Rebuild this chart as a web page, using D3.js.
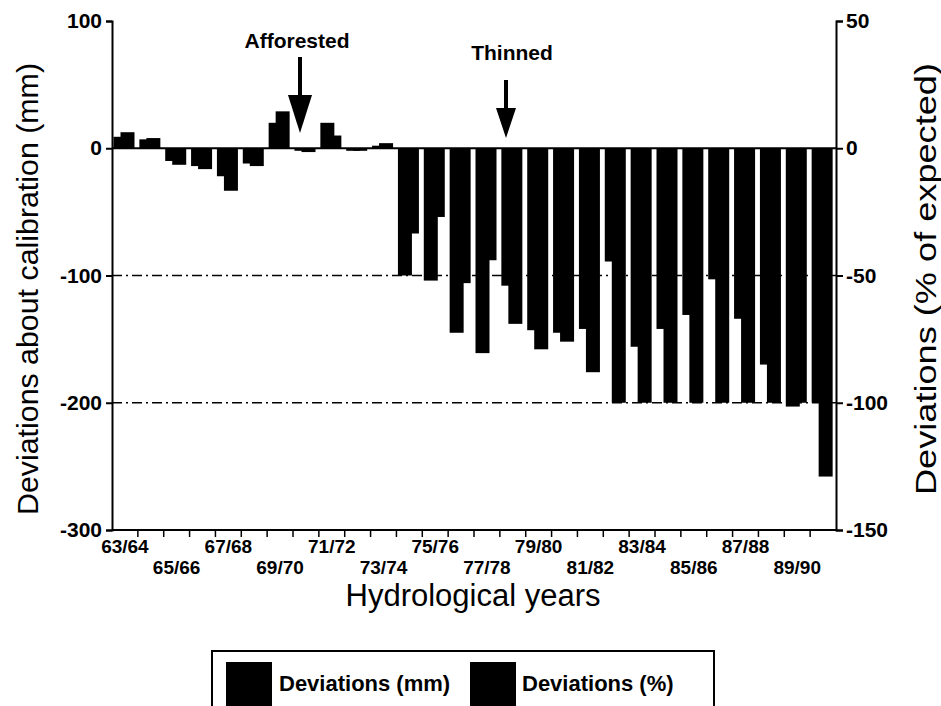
<!DOCTYPE html>
<meta charset="utf-8">
<style>
    body { margin: 0; background: white; }
    text { font-family: "Liberation Sans", Arial, sans-serif; fill: black; }
    .tick-lab { font-size: 19px; font-weight: bold; }
    .ax-title { font-size: 30px; }
</style>
<body>
<script src="https://cdn.jsdelivr.net/npm/d3@7"></script>
<script>
    // hydrological years, 63/64 .. 90/91
    var years = ['63/64','64/65','65/66','66/67','67/68','68/69','69/70','70/71',
                 '71/72','72/73','73/74','74/75','75/76','76/77','77/78','78/79',
                 '79/80','80/81','81/82','82/83','83/84','84/85','85/86','86/87',
                 '87/88','88/89','89/90','90/91'];
    // deviations in mm (left axis)
    var dev_mm = [9, 7, -10, -14, -22, -12, 20, -2, 20, -2, 2, -100, -104, -145,
                  -161, -108, -143, -145, -142, -89, -156, -142, -131, -103,
                  -134, -170, -203, -200];
    // deviations in % of expected (right axis)
    var dev_pct = [6.3, 4, -6.5, -8.2, -16.7, -7, 14.5, -1.5, 5, -1, 2, -33.5,
                   -27, -53, -44, -69, -79, -76, -88, -100, -100, -100, -100,
                   -100, -100, -100, -100, -129];
    var mm_ticks = [100, 0, -100, -200, -300];
    var pct_ticks = [50, 0, -50, -100, -150];
    var grid_vals = [-100, -200];

    var W = 941, H = 706,
        plot_l = 112, plot_r = 836, plot_t = 21, plot_b = 530;

    var svg = d3.select('body').append('svg')
        .attr('width', W)
        .attr('height', H);

    var x = d3.scaleBand().domain(years).range([plot_l, plot_r]).padding(0);
    var yL = d3.scaleLinear().domain([-300, 100]).range([plot_b, plot_t]);
    var yR = d3.scaleLinear().domain([-150, 50]).range([plot_b, plot_t]);

    // dash-dot grid lines
    svg.selectAll('line.grid')
        .data(grid_vals).enter()
        .append('line')
        .attr('x1', plot_l).attr('x2', plot_r)
        .attr('y1', function(d) { return yL(d); })
        .attr('y2', function(d) { return yL(d); })
        .attr('stroke', 'black')
        .attr('stroke-width', 1.6)
        .attr('stroke-dasharray', '10,4,2,4');

    // bars: mm on the left, % overlapping to the right
    var bw = 14, off = 7, pad = 1.5;
    svg.selectAll('rect.mm')
        .data(dev_mm).enter()
        .append('rect')
        .attr('x', function(d, i) { return x(years[i]) + pad; })
        .attr('y', function(d) { return Math.min(yL(d), yL(0)); })
        .attr('width', bw)
        .attr('height', function(d) { return Math.abs(yL(d) - yL(0)); })
        .attr('fill', 'black');
    svg.selectAll('rect.pct')
        .data(dev_pct).enter()
        .append('rect')
        .attr('x', function(d, i) { return x(years[i]) + pad + off; })
        .attr('y', function(d) { return Math.min(yR(d), yR(0)); })
        .attr('width', bw)
        .attr('height', function(d) { return Math.abs(yR(d) - yR(0)); })
        .attr('fill', 'black');

    // zero line
    svg.append('line')
        .attr('x1', plot_l).attr('x2', plot_r)
        .attr('y1', yL(0)).attr('y2', yL(0))
        .attr('stroke', 'black').attr('stroke-width', 2);

    // plain hyphen for negatives, like the original
    var fmt = function(d) { return String(d); };

    // left axis
    var axL = svg.append('g')
        .attr('transform', 'translate(' + plot_l + ',0)')
        .call(d3.axisLeft(yL).tickValues(mm_ticks).tickFormat(fmt).tickSize(6).tickPadding(4));
    // right axis
    var axR = svg.append('g')
        .attr('transform', 'translate(' + plot_r + ',0)')
        .call(d3.axisRight(yR).tickValues(pct_ticks).tickFormat(fmt).tickSize(7).tickPadding(3));
    [axL, axR].forEach(function(g) {
        g.select('.domain').attr('stroke-width', 2);
        g.selectAll('.tick line').attr('stroke-width', 2);
        g.selectAll('.tick text')
            .attr('class', 'tick-lab')
            .style('font-size', '21px')
            .attr('font-family', null);
    });

    // bottom axis: ticks at band edges, labels on every second year
    svg.append('line')
        .attr('x1', plot_l).attr('x2', plot_r)
        .attr('y1', plot_b).attr('y2', plot_b)
        .attr('stroke', 'black').attr('stroke-width', 2);
    svg.selectAll('line.xtick')
        .data(years.slice(1)).enter()
        .append('line')
        .attr('x1', function(d) { return x(d); })
        .attr('x2', function(d) { return x(d); })
        .attr('y1', plot_b).attr('y2', plot_b + 7)
        .attr('stroke', 'black').attr('stroke-width', 1.5);
    svg.selectAll('text.xlab')
        .data(years.filter(function(d, i) { return i % 2 == 0 && i < 27; })).enter()
        .append('text')
        .attr('class', 'tick-lab')
        .attr('x', function(d) { return x(d) + x.bandwidth() / 2; })
        .attr('y', function(d) { return years.indexOf(d) % 4 == 0 ? 553 : 574; })
        .attr('text-anchor', 'middle')
        .text(function(d) { return d; });

    // axis titles
    svg.append('text')
        .attr('class', 'ax-title')
        .attr('x', (plot_l + plot_r) / 2 - 1)
        .attr('y', 606)
        .attr('text-anchor', 'middle')
        .style('font-size', '31px')
        .text('Hydrological years');
    svg.append('text')
        .attr('class', 'ax-title')
        .attr('transform', 'translate(38,289) rotate(-90)')
        .attr('text-anchor', 'middle')
        .attr('textLength', 452)
        .attr('lengthAdjust', 'spacingAndGlyphs')
        .text('Deviations about calibration (mm)');
    svg.append('text')
        .attr('class', 'ax-title')
        .attr('transform', 'translate(936,279) rotate(-90)')
        .attr('text-anchor', 'middle')
        .attr('textLength', 432)
        .attr('lengthAdjust', 'spacingAndGlyphs')
        .text('Deviations (% of expected)');

    // annotations with arrows
    var notes = [
        {label: 'Afforested', tx: 297, ty: 48, ax: 300, y0: 57, y1: 133, hh: 38, hw: 12},
        {label: 'Thinned', tx: 512, ty: 60, ax: 506, y0: 80, y1: 138, hh: 30, hw: 10}
    ];
    notes.forEach(function(n) {
        svg.append('text')
            .attr('x', n.tx).attr('y', n.ty)
            .attr('text-anchor', 'middle')
            .style('font-size', '21px').style('font-weight', 'bold')
            .text(n.label);
        svg.append('line')
            .attr('x1', n.ax).attr('x2', n.ax)
            .attr('y1', n.y0).attr('y2', n.y1 - n.hh + 2)
            .attr('stroke', 'black').attr('stroke-width', 4);
        svg.append('path')
            .attr('d', 'M' + (n.ax - n.hw) + ',' + (n.y1 - n.hh) + 'L' + (n.ax + n.hw) + ',' +
                  (n.y1 - n.hh) + 'L' + n.ax + ',' + n.y1 + 'Z')
            .attr('fill', 'black');
    });

    // legend
    var leg = svg.append('g');
    leg.append('rect')
        .attr('x', 212).attr('y', 651).attr('width', 502).attr('height', 60)
        .attr('fill', 'white').attr('stroke', 'black').attr('stroke-width', 2);
    var items = [{name: 'Deviations (mm)', sx: 226, tx: 279},
                 {name: 'Deviations (%)', sx: 470, tx: 522}];
    items.forEach(function(it) {
        leg.append('rect')
            .attr('x', it.sx).attr('y', 662).attr('width', 46).attr('height', 46)
            .attr('fill', 'black');
        leg.append('text')
            .attr('x', it.tx).attr('y', 691)
            .style('font-size', '22px').style('font-weight', 'bold')
            .text(it.name);
    });
</script>
</body>
